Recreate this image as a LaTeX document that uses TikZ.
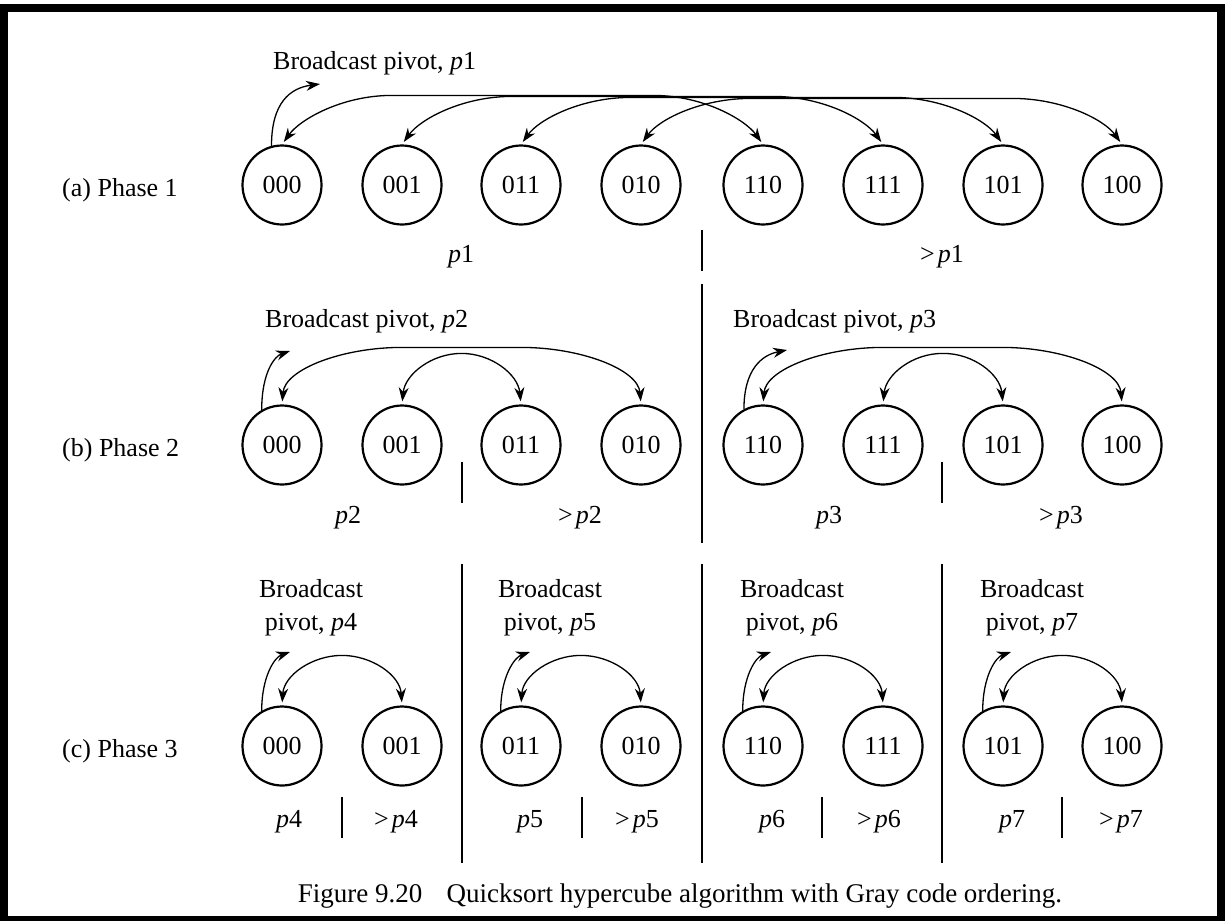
\documentclass[tikz,border=0pt]{standalone}
\usepackage{fontspec}
\setmainfont{Liberation Serif}
\usetikzlibrary{arrows.meta,calc}

% double-headed exchange arc between the tops of two nodes:
% #1 from, #2 to, #3 rise, #4 horizontal reach of each bend,
% #5/#6 first handle (right/up), #7 handle length at the flat part
\newcommand{\pairlink}[7]{%
  \draw[link] (#1.north) .. controls +(#5,-#6) and +(-#7,0) .. ($(#1.north)+(#4,-#3)$)
    -- ($(#2.north)+(-#4,-#3)$) .. controls +(#7,0) and +(-#5,-#6) .. (#2.north);}

\begin{document}
\begin{tikzpicture}[x=1pt,y=-1pt,
  proc/.style={circle, draw, line width=2.2pt, minimum size=79pt, inner sep=0pt,
               font=\fontsize{26}{30}\selectfont},
  txt/.style={inner sep=0pt, font=\fontsize{26}{30}\selectfont},
  tip/.style={Stealth[length=14pt,width=10pt]},
  link/.style={line width=1.3pt, {Stealth[length=14pt,width=10pt]}-{Stealth[length=14pt,width=10pt]},
               shorten <=3pt, shorten >=3pt},
  bcast/.style={line width=1.3pt, -{Stealth[length=14pt,width=10pt]}},
  divider/.style={line width=2.2pt}]

\useasboundingbox (0,0) rectangle (1225,921);

% frame
\fill (0,4) rectangle (1225,12);
\fill (0,4) rectangle (8,921);
\fill (1217,4) rectangle (1225,921);
\fill (0,916) rectangle (1225,921);

% ---------- (a) Phase 1 ----------
\node[txt, anchor=base west] (la) at (62,196) {(a) Phase 1};
\node[proc] (a0) at (282,185) {000};
\node[proc] (a1) at (402,185) {001};
\node[proc] (a2) at (521,185) {011};
\node[proc] (a3) at (641,185) {010};
\node[proc] (a4) at (763,185) {110};
\node[proc] (a5) at (883,185) {111};
\node[proc] (a6) at (1003,185) {101};
\node[proc] (a7) at (1122,185) {100};

\node[txt, anchor=base west] (ha) at (273,69) {Broadcast pivot, \textit{p}1};
\coordinate (ta) at (320,84);
\draw[bcast] (a0.105) .. controls +(0,-43) and +(-30,4) .. (ta);

\pairlink{a0}{a4}{49}{110}{18}{25}{50}
\pairlink{a1}{a5}{48}{110}{18}{25}{50}
\pairlink{a2}{a6}{47}{110}{18}{25}{50}
\pairlink{a3}{a7}{46}{110}{18}{25}{50}

\draw[divider] (702,230) -- (702,271);
\node[txt, anchor=base] (sa1) at (461,262) {\textit{p}1};
\node[txt, anchor=base] (sa2) at (942,262) {>\hspace{0.12em}\textit{p}1};

% big divider between the halves of phase 2
\draw[divider] (702,284) -- (702,543);

% ---------- (b) Phase 2 ----------
\node[txt, anchor=base west] (lb) at (62,456) {(b) Phase 2};
\node[proc] (b0) at (282,445) {000};
\node[proc] (b1) at (402,445) {001};
\node[proc] (b2) at (521,445) {011};
\node[proc] (b3) at (641,445) {010};
\node[proc] (b4) at (763,445) {110};
\node[proc] (b5) at (883,445) {111};
\node[proc] (b6) at (1003,445) {101};
\node[proc] (b7) at (1122,445) {100};

\node[txt, anchor=base west] (hb1) at (265,327) {Broadcast pivot, \textit{p}2};
\node[txt, anchor=base west] (hb2) at (733,327) {Broadcast pivot, \textit{p}3};
\coordinate (tb1) at (290,351);
\coordinate (tb2) at (787,350);
\draw[bcast] (b0.120) .. controls +(0,-38) and +(-15,5) .. (tb1);
\draw[bcast] (b4.118) .. controls +(0,-40) and +(-25,5) .. (tb2);

\pairlink{b0}{b3}{57}{120}{3}{35}{60}
\pairlink{b1}{b2}{51}{59.5}{3}{30}{30}
\pairlink{b4}{b7}{57}{120}{3}{35}{60}
\pairlink{b5}{b6}{51}{59.5}{3}{30}{30}

\draw[divider] (462,462) -- (462,503);
\draw[divider] (942,462) -- (942,503);
\node[txt, anchor=base] (sb1) at (348,523) {\textit{p}2};
\node[txt, anchor=base] (sb2) at (580,523) {>\hspace{0.12em}\textit{p}2};
\node[txt, anchor=base] (sb3) at (829,523) {\textit{p}3};
\node[txt, anchor=base] (sb4) at (1061,523) {>\hspace{0.12em}\textit{p}3};

% dividers between the quarters of phase 3
\draw[divider] (462,564) -- (462,863);
\draw[divider] (702,564) -- (702,863);
\draw[divider] (942,564) -- (942,863);

% ---------- (c) Phase 3 ----------
\node[txt, anchor=base west] (lc) at (62,757) {(c) Phase 3};
\node[proc] (c0) at (282,746) {000};
\node[proc] (c1) at (402,746) {001};
\node[proc] (c2) at (521,746) {011};
\node[proc] (c3) at (641,746) {010};
\node[proc] (c4) at (763,746) {110};
\node[proc] (c5) at (883,746) {111};
\node[proc] (c6) at (1003,746) {101};
\node[proc] (c7) at (1122,746) {100};

\foreach \k/\x in {4/311, 5/550, 6/792, 7/1032}{
  \node[txt, anchor=base] (hc\k a) at (\x,597) {Broadcast};
  \node[txt, anchor=base] (hc\k b) at (\x,630) {pivot, \textit{p}\k};
}

\coordinate (tc0) at (290,652);
\coordinate (tc2) at (530,652);
\coordinate (tc4) at (771,652);
\coordinate (tc6) at (1011,652);
\draw[bcast] (c0.120) .. controls +(0,-35) and +(-15,5) .. (tc0);
\draw[bcast] (c2.120) .. controls +(0,-35) and +(-15,5) .. (tc2);
\draw[bcast] (c4.120) .. controls +(0,-35) and +(-15,5) .. (tc4);
\draw[bcast] (c6.120) .. controls +(0,-35) and +(-15,5) .. (tc6);

\pairlink{c0}{c1}{50}{60}{2}{30}{30}
\pairlink{c2}{c3}{50}{60}{2}{30}{30}
\pairlink{c4}{c5}{50}{60}{2}{30}{30}
\pairlink{c6}{c7}{50}{59.5}{2}{30}{30}

\draw[divider] (342,797) -- (342,838);
\draw[divider] (582,797) -- (582,838);
\draw[divider] (822,797) -- (822,838);
\draw[divider] (1062,797) -- (1062,838);
\node[txt, anchor=base] (sc1) at (289,827) {\textit{p}4};
\node[txt, anchor=base] (sc2) at (396,827) {>\hspace{0.12em}\textit{p}4};
\node[txt, anchor=base] (sc3) at (530,827) {\textit{p}5};
\node[txt, anchor=base] (sc4) at (637,827) {>\hspace{0.12em}\textit{p}5};
\node[txt, anchor=base] (sc5) at (772,827) {\textit{p}6};
\node[txt, anchor=base] (sc6) at (879,827) {>\hspace{0.12em}\textit{p}6};
\node[txt, anchor=base] (sc7) at (1012,827) {\textit{p}7};
\node[txt, anchor=base] (sc8) at (1121,827) {>\hspace{0.12em}\textit{p}7};

% caption
\node[inner sep=0pt, anchor=base, font=\fontsize{27}{30}\selectfont] (cap) at (680,902)
  {Figure 9.20\hspace{0.9em}Quicksort hypercube algorithm with Gray code ordering.};

\end{tikzpicture}
\end{document}
